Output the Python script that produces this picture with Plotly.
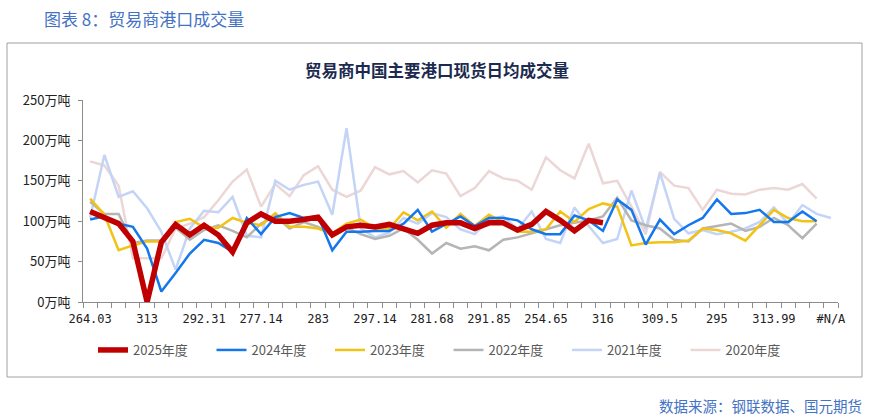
import plotly.graph_objects as go

W, H = 871, 418
ML, MR, MT, MB = 83, 33, 100, 116
PW, PH = W - ML - MR, H - MT - MB

n_weeks = 53
tick_labels = ["264.03", "313", "292.31", "277.14", "283", "297.14", "281.68",
               "291.85", "254.65", "316", "309.5", "295", "313.99", "#N/A"]
tick_every = 4

y_ticks = [0, 50, 100, 150, 200, 250]
y_tick_text = ["0万吨", "50万吨", "100万吨", "150万吨", "200万吨", "250万吨"]

v2025 = [112, 104, 97, 75, 0, 74, 96, 83, 95, 83, 62, 98, 109, 100, 100, 102, 105, 83, 93,
         95, 93, 96, 90, 85, 95, 98, 98, 91, 98, 98, 89, 96, 112, 101, 88, 101, 98]
v2024 = [102, 106, 97, 93, 66, 13, 36, 60, 77, 73, 62, 104, 84, 105, 110, 104, 106, 64, 87,
         87, 88, 88, 97, 114, 87, 97, 106, 94, 104, 104, 101, 90, 84, 84, 107, 101, 88, 127,
         114, 71, 102, 84, 95, 104, 127, 109, 110, 114, 99, 99, 112, 100]
v2023 = [128, 108, 64, 70, 75, 75, 99, 103, 92, 92, 104, 98, 95, 110, 93, 93, 91, 85, 97,
         102, 91, 91, 111, 101, 112, 92, 109, 94, 108, 99, 87, 87, 90, 112, 99, 115, 122, 118,
         70, 73, 74, 74, 76, 91, 89, 85, 76, 95, 114, 104, 100, 100]
v2022 = [124, 109, 109, 73, 76, 76, 92, 77, 89, 95, 88, 80, 97, 106, 91, 99, 93, 82, 92,
         84, 78, 82, 91, 77, 60, 73, 66, 69, 64, 77, 80, 85, 90, 95, 98, 101, 106, 129, 101,
         95, 91, 77, 75, 91, 94, 97, 88, 93, 104, 95, 79, 97]
v2021 = [104, 182, 130, 137, 116, 87, 40, 91, 113, 111, 130, 82, 80, 150, 139, 145, 149, 108,
         215, 91, 80, 86, 104, 97, 110, 105, 90, 84, 102, 106, 90, 112, 78, 73, 117, 94, 73,
         78, 138, 90, 160, 103, 85, 89, 84, 87, 91, 99, 117, 97, 120, 109, 104]
v2020 = [174, 169, 144, 54, 54, 54, 91, 97, 105, 126, 149, 164, 118, 146, 131, 157, 168, 139,
         130, 138, 167, 158, 162, 148, 163, 159, 131, 141, 162, 153, 150, 139, 179, 163, 153,
         196, 147, 150, 118, 84, 161, 144, 141, 114, 139, 134, 133, 139, 141, 139, 146, 128]

series = [
    ("2025年度", v2025, "#C00000", 5.5),
    ("2024年度", v2024, "#1478EC", 2.5),
    ("2023年度", v2023, "#F2C314", 2.5),
    ("2022年度", v2022, "#B5B5B5", 2.5),
    ("2021年度", v2021, "#C3D4F6", 2.5),
    ("2020年度", v2020, "#ECD6D6", 2.5),
]

FONT = "Noto Sans CJK SC"


def px(x):
    return (x - ML) / PW


def py(y):
    return (H - MB - y) / PH


fig = go.Figure()
names = [s[0] for s in series]
# draw older years first so 2025 on top
for name, vals, color, width in reversed(series):
    fig.add_trace(go.Scatter(
        x=list(range(len(vals))), y=vals, name=name, mode="lines",
        line=dict(color=color, width=width), legendrank=names.index(name) + 1,
    ))

fig.update_layout(
    width=W, height=H,
    margin=dict(l=ML, r=MR, t=MT, b=MB),
    paper_bgcolor="white", plot_bgcolor="white",
    font=dict(family=FONT, size=13, color="#222222"),
    showlegend=True,
    legend=dict(orientation="h", x=px(93), xanchor="left", y=py(335), yanchor="top",
                font=dict(size=13, color="#595959", family=FONT),
                entrywidth=73.5, entrywidthmode="pixels", traceorder="normal",
                bgcolor="rgba(0,0,0,0)"),
    xaxis=dict(
        range=[-0.5, n_weeks - 0.5], showgrid=False, zeroline=False,
        showline=True, linecolor="#8C8C8C", linewidth=1,
        tickmode="array", tickvals=list(range(0, n_weeks, tick_every)), ticktext=tick_labels,
        ticks="", ticklabelstandoff=6,
        tickfont=dict(family="DejaVu Sans Mono, " + FONT, size=12, color="#222222"),
        minor=dict(tickmode="array", tickvals=[i - 0.5 for i in range(n_weeks + 1)],
                   ticks="outside", ticklen=5, tickcolor="#8C8C8C", showgrid=False),
    ),
    yaxis=dict(
        range=[0, 250], showgrid=False, zeroline=False,
        showline=True, linecolor="#8C8C8C", linewidth=1,
        tickmode="array", tickvals=y_ticks, ticktext=y_tick_text,
        ticks="outside", ticklen=4, tickcolor="#8C8C8C", ticklabelstandoff=5,
        tickfont=dict(family=FONT, size=13, color="#222222"),
    ),
)

# outer frame
fig.add_shape(type="rect", xref="paper", yref="paper",
              x0=px(7), x1=px(862), y0=py(377), y1=py(43),
              line=dict(color="#A0A0A0", width=1), fillcolor="rgba(0,0,0,0)", layer="below")

fig.add_annotation(text="图表 8：贸易商港口成交量", xref="paper", yref="paper",
                   x=px(42), y=py(18), xanchor="left", yanchor="middle", showarrow=False,
                   font=dict(family=FONT, size=17, color="#4472C4"))
fig.add_annotation(text="<b>贸易商中国主要港口现货日均成交量</b>", xref="paper", yref="paper",
                   x=px(437), y=py(70), xanchor="center", yanchor="middle", showarrow=False,
                   font=dict(family=FONT, size=16.5, color="#1B2A4E"))
fig.add_annotation(text="数据来源：钢联数据、国元期货", xref="paper", yref="paper",
                   x=px(864), y=py(405), xanchor="right", yanchor="middle", showarrow=False,
                   font=dict(family=FONT, size=14.5, color="#4472C4"))

fig.write_html("out.html", config={"displayModeBar": False},
               post_script="document.body.style.margin='0';")
